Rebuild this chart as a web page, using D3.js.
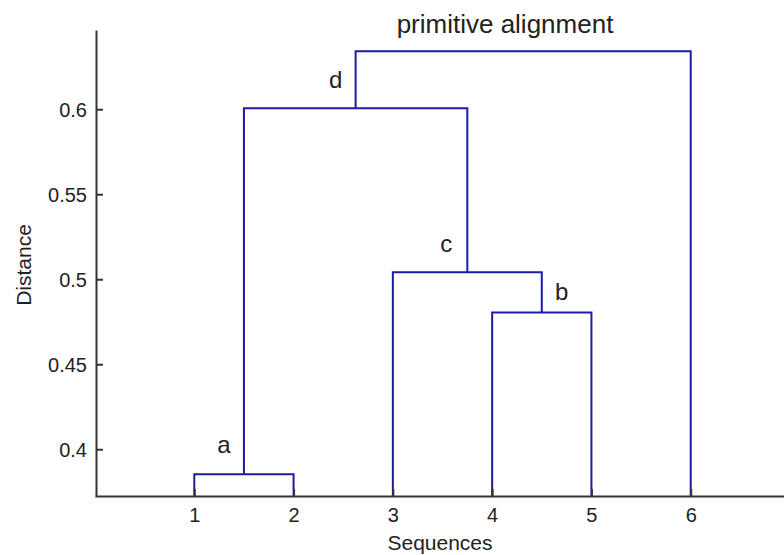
<!DOCTYPE html>
<html>
<head>
<meta charset="utf-8">
<script src="https://cdn.jsdelivr.net/npm/d3@7"></script>
<style>
  html, body { margin: 0; padding: 0; background: #fff; }
  svg { display: block; }
  text { font-family: "Liberation Sans", Arial, Helvetica, sans-serif; fill: #222; }
</style>
</head>
<body>
<svg id="chart" width="784" height="555"></svg>
<script>
// Leaves (sequences) in dendrogram order
const leaves = [1, 2, 3, 4, 5, 6];
// Merges: children are leaf numbers or ids of earlier merges
const mergeIds      = ["a", "b", "c", "d", "root"];
const mergeLeft     = [1, 4, 3, "a", "d"];
const mergeRight    = [2, 5, "b", "c", 6];
const mergeHeights  = [0.3853, 0.4804, 0.5041, 0.6006, 0.6341];
const mergeLabels   = ["a", "b", "c", "d", ""];
// Axis ticks
const xTicks = [1, 2, 3, 4, 5, 6];
const yTicks = [0.4, 0.45, 0.5, 0.55, 0.6];

const svg = d3.select("#chart");
const x = d3.scaleLinear().domain([0, 7]).range([95, 790]);
const y = d3.scaleLinear().domain([0.3725, 0.6466]).range([496, 30]);

const lineColor = "#1c1ca6";
const axisColor = "#333";

// Resolve each node's x position and height
const pos = {};
leaves.forEach(l => { pos[l] = { x: l, h: y.domain()[0] }; });
const links = [];
mergeIds.forEach((id, i) => {
  const L = pos[mergeLeft[i]], R = pos[mergeRight[i]], h = mergeHeights[i];
  links.push({ x1: L.x, h1: L.h, x2: R.x, h2: R.h, h });
  pos[id] = { x: (L.x + R.x) / 2, h, label: mergeLabels[i] };
});

// Dendrogram U-shaped links
svg.append("g").selectAll("path").data(links).join("path")
  .attr("fill", "none")
  .attr("stroke", lineColor)
  .attr("stroke-width", 2)
  .attr("d", d => `M${x(d.x1)},${y(d.h1)}V${y(d.h)}H${x(d.x2)}V${y(d.h2)}`);

// Axes (MATLAB style: inward ticks, no box)
const xAxis = svg.append("g").attr("transform", `translate(0,${y.range()[0]})`)
  .call(d3.axisBottom(x).tickValues(xTicks).tickSizeInner(-7).tickSizeOuter(0).tickPadding(12)
    .tickFormat(d3.format("d")));
const yAxis = svg.append("g").attr("transform", `translate(${x.range()[0] + 1},0)`)
  .call(d3.axisLeft(y).tickValues(yTicks).tickSizeInner(-7).tickSizeOuter(0).tickPadding(9)
    .tickFormat(d => String(+d.toFixed(2))));
[xAxis, yAxis].forEach(g => {
  g.select(".domain").attr("stroke", axisColor).attr("stroke-width", 2);
  g.selectAll(".tick line").attr("stroke", axisColor).attr("stroke-width", 2);
  g.selectAll(".tick text").attr("font-size", 20).attr("fill", "#222");
});
yAxis.selectAll(".tick text").attr("dy", "0.35em");

// Merge labels
const labelOffsets = { a: [-20, -21], b: [20, -13], c: [-21, -20], d: [-20, -20] };
const labelled = mergeIds.filter(id => pos[id].label);
svg.append("g").selectAll("text").data(labelled).join("text")
  .attr("x", id => x(pos[id].x) + labelOffsets[id][0])
  .attr("y", id => y(pos[id].h) + labelOffsets[id][1])
  .attr("text-anchor", "middle")
  .attr("font-size", 24)
  .text(id => pos[id].label);

// Title and axis labels
svg.append("text").attr("x", 505).attr("y", 33).attr("text-anchor", "middle")
  .attr("font-size", 26).text("primitive alignment");
svg.append("text").attr("x", 440).attr("y", 550).attr("text-anchor", "middle")
  .attr("font-size", 21).text("Sequences");
svg.append("text").attr("transform", "translate(31,265) rotate(-90)")
  .attr("text-anchor", "middle").attr("font-size", 21).text("Distance");
</script>
</body>
</html>
